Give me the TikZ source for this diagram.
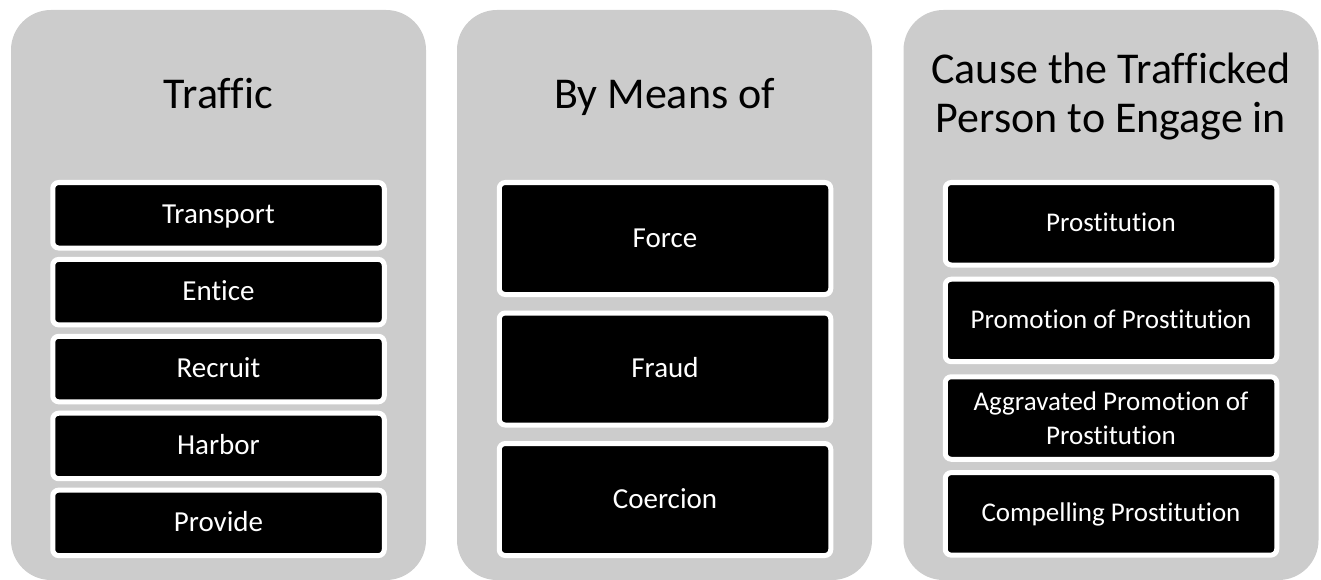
\documentclass[tikz,border=0pt]{standalone}
\usepackage{fontspec}
\setmainfont{Carlito}[Ligatures={NoCommon}]
\definecolor{panelgray}{HTML}{CCCCCC}
\begin{document}
\begin{tikzpicture}[x=1pt,y=-1pt,
  panel/.style={fill=panelgray, rounded corners=40pt, minimum width=415pt, minimum height=570pt, inner sep=0pt, outer sep=0pt},
  title/.style={font=\fontsize{44}{49}\selectfont, align=center, text=black, inner sep=0pt},
  item/.style={draw=white, line width=5pt, fill=black, rounded corners=6pt, minimum width=331.5pt, inner sep=0pt, outer sep=0pt, text=white, align=center},
  itemA/.style={item, font=\fontsize{29}{35}\selectfont, text height=23pt, text depth=6pt},
  itemB/.style={item, font=\fontsize{27}{33}\selectfont, text height=21pt, text depth=5.6pt}
]
\useasboundingbox (0,0) rectangle (1321,580);
% panels
\node[panel] (p1) at (218.5,295) {};
\node[panel] (p2) at (664.5,295) {};
\node[panel] (p3) at (1111,295) {};
% titles
\node[title, anchor=base] (h1) at (218.5,109) {Traffic};
\node[title, anchor=base] (h2) at (664.5,109) {By Means of};
\node[title, anchor=base] (h3) at (1111,133) {Cause the Trafficked\\Person to Engage in};
% panel 1 items
\node[itemA, minimum height=65.5pt] (a1) at (218.5,215.25) {Transport};
\node[itemA, minimum height=65.5pt] (a2) at (218.5,292.15) {Entice};
\node[itemA, minimum height=65.5pt] (a3) at (218.5,369.05) {Recruit};
\node[itemA, minimum height=65.5pt] (a4) at (218.5,445.95) {Harbor};
\node[itemA, minimum height=65.5pt] (a5) at (218.5,522.85) {Provide};
% panel 2 items
\node[itemA, minimum height=112pt] (b1) at (665,238.5) {Force};
\node[itemA, minimum height=112pt] (b2) at (665,369) {Fraud};
\node[itemA, minimum height=112pt] (b3) at (665,499.5) {Coercion};
% panel 3 items
\node[itemB, minimum height=82.5pt] (c1) at (1111,223.75) {Prostitution};
\node[itemB, minimum height=82.5pt] (c2) at (1111,320.45) {Promotion of Prostitution};
\node[item, font=\fontsize{27}{33.5}\selectfont, minimum height=82.5pt] (c3) at (1111,418) {Aggravated Promotion of\\Prostitution};
\node[itemB, minimum height=82.5pt] (c4) at (1111,513.85) {Compelling Prostitution};
\end{tikzpicture}
\end{document}
